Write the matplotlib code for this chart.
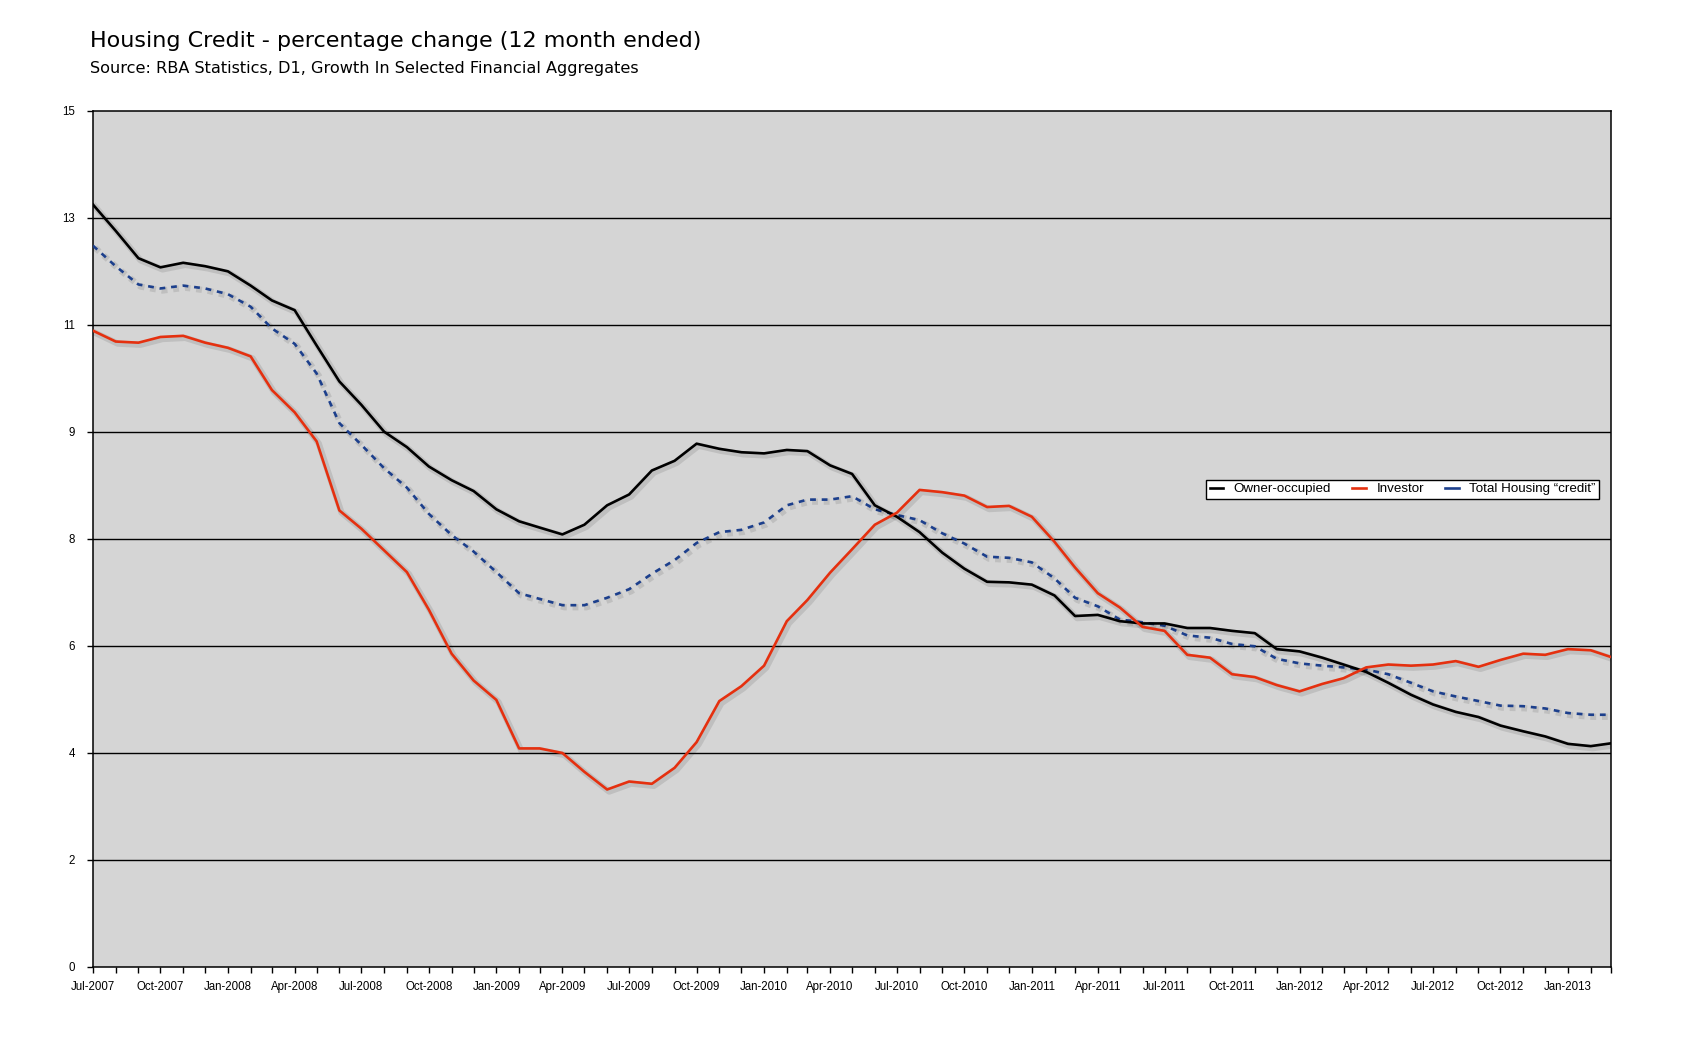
import numpy as np
import pandas as pd
import matplotlib
matplotlib.use("Agg")
import matplotlib.pyplot as plt
import matplotlib.dates as mdates
import matplotlib.patheffects as pe

# ------------------------------------------------------------
# Data (12-month ended % change, monthly Jul-2007 .. Mar-2013)
# ------------------------------------------------------------
MONTHS = pd.date_range("2007-07-01", "2013-03-01", freq="MS")

OWNER = [
    13.36, 12.90, 12.42, 12.26, 12.34, 12.28, 12.19, 11.94, 11.68, 11.51,
    10.89, 10.26, 9.85, 9.38, 9.11, 8.77, 8.53, 8.34, 8.02, 7.81,
    7.70, 7.58, 7.75, 8.09, 8.28, 8.70, 8.87, 9.17, 9.08, 9.02,
    9.00, 9.06, 9.04, 8.79, 8.64, 8.09, 7.89, 7.62, 7.26, 6.98,
    6.75, 6.74, 6.70, 6.51, 6.15, 6.17, 6.06, 6.02, 6.02, 5.94,
    5.94, 5.89, 5.85, 5.57, 5.53, 5.42, 5.30, 5.17, 4.98, 4.77,
    4.60, 4.47, 4.38, 4.23, 4.13, 4.04, 3.91, 3.87, 3.92,
]

INVESTOR = [
    11.15, 10.96, 10.94, 11.04, 11.06, 10.94, 10.85, 10.70, 10.11, 9.72,
    9.21, 8.00, 7.68, 7.30, 6.92, 6.26, 5.49, 5.02, 4.68, 3.83,
    3.83, 3.75, 3.42, 3.11, 3.25, 3.21, 3.49, 3.94, 4.66, 4.92,
    5.28, 6.06, 6.43, 6.91, 7.32, 7.75, 7.96, 8.36, 8.32, 8.26,
    8.06, 8.08, 7.89, 7.45, 7.00, 6.55, 6.30, 5.96, 5.89, 5.47,
    5.42, 5.13, 5.08, 4.94, 4.83, 4.96, 5.06, 5.25, 5.30, 5.28,
    5.30, 5.36, 5.26, 5.38, 5.49, 5.47, 5.57, 5.55, 5.43,
]

TOTAL = [
    12.64, 12.28, 11.96, 11.89, 11.94, 11.89, 11.79, 11.57, 11.19, 10.92,
    10.40, 9.53, 9.15, 8.74, 8.40, 7.94, 7.57, 7.28, 6.92, 6.55,
    6.45, 6.34, 6.34, 6.47, 6.62, 6.89, 7.13, 7.43, 7.62, 7.66,
    7.79, 8.09, 8.19, 8.19, 8.25, 8.02, 7.92, 7.83, 7.60, 7.42,
    7.19, 7.17, 7.09, 6.81, 6.47, 6.32, 6.09, 6.04, 5.98, 5.81,
    5.77, 5.66, 5.62, 5.40, 5.32, 5.28, 5.25, 5.21, 5.13, 4.98,
    4.83, 4.74, 4.66, 4.58, 4.57, 4.53, 4.45, 4.42, 4.42,
]

YTICKS = np.linspace(0, 15, 9)
YTICK_LABELS = ["0", "2", "4", "6", "8", "9", "11", "13", "15"]

# ------------------------------------------------------------
# Plot
# ------------------------------------------------------------
fig = plt.figure(figsize=(16.93, 10.48), dpi=100)
ax = fig.add_axes([0.0549, 0.0773, 0.8968, 0.8168])
ax.set_facecolor("#d5d5d5")

shadow = [pe.SimpleLineShadow(offset=(1.5, -1.5), shadow_color="black",
                              alpha=0.10, linewidth=4.5), pe.Normal()]

ax.plot(MONTHS, OWNER, color="black", lw=1.9, label="Owner-occupied",
        path_effects=shadow, zorder=4)
ax.plot(MONTHS, INVESTOR, color="#e5300f", lw=1.9, label="Investor",
        path_effects=shadow, zorder=4)
ax.plot(MONTHS, TOTAL, color="#1c3f8c", lw=1.9, ls=(0, (2.2, 2.2)),
        label="Total Housing \u201ccredit\u201d", path_effects=shadow, zorder=3)

ax.set_ylim(0, 15)
ax.set_yticks(YTICKS)
ax.set_yticklabels(YTICK_LABELS)
for y in YTICKS[1:-1]:
    ax.axhline(y, color="black", lw=1.0, zorder=2)

ax.set_xlim(MONTHS[0], MONTHS[-1])
ax.xaxis.set_major_locator(mdates.MonthLocator(bymonth=[1, 4, 7, 10]))
ax.xaxis.set_major_formatter(mdates.DateFormatter("%b-%Y"))
ax.xaxis.set_minor_locator(mdates.MonthLocator())

for s in ax.spines.values():
    s.set_color("black")
    s.set_linewidth(1.1)

ax.tick_params(axis="both", which="both", direction="out", length=4,
               width=1, color="black", labelsize=8.3)
ax.tick_params(axis="x", which="major", pad=6)
ax.tick_params(axis="y", pad=9)
for lab in ax.get_xticklabels() + ax.get_yticklabels():
    lab.set_fontfamily("Liberation Sans")

leg = ax.legend(loc="upper left", bbox_to_anchor=(0.729, 0.577), ncol=3,
                frameon=True, fancybox=False, borderpad=0.25,
                handlelength=1.0, handletextpad=0.8, columnspacing=1.6,
                prop={"family": "Liberation Sans", "size": 9.6})
leg.get_frame().set_edgecolor("black")
leg.get_frame().set_linewidth(1.0)
leg.get_frame().set_facecolor("white")
leg.get_frame().set_alpha(1.0)
for h in leg.get_lines():
    h.set_linestyle("-")
    h.set_path_effects([])

fig.text(0.0532, 1 - 47 / 1048, "Housing Credit - percentage change (12 month ended)",
         fontsize=16, va="baseline", ha="left", family="DejaVu Sans")
fig.text(0.0532, 1 - 73 / 1048, "Source: RBA Statistics, D1, Growth In Selected Financial Aggregates",
         fontsize=11.65, va="baseline", ha="left", family="DejaVu Sans")

fig.savefig("out.png", dpi=100)
